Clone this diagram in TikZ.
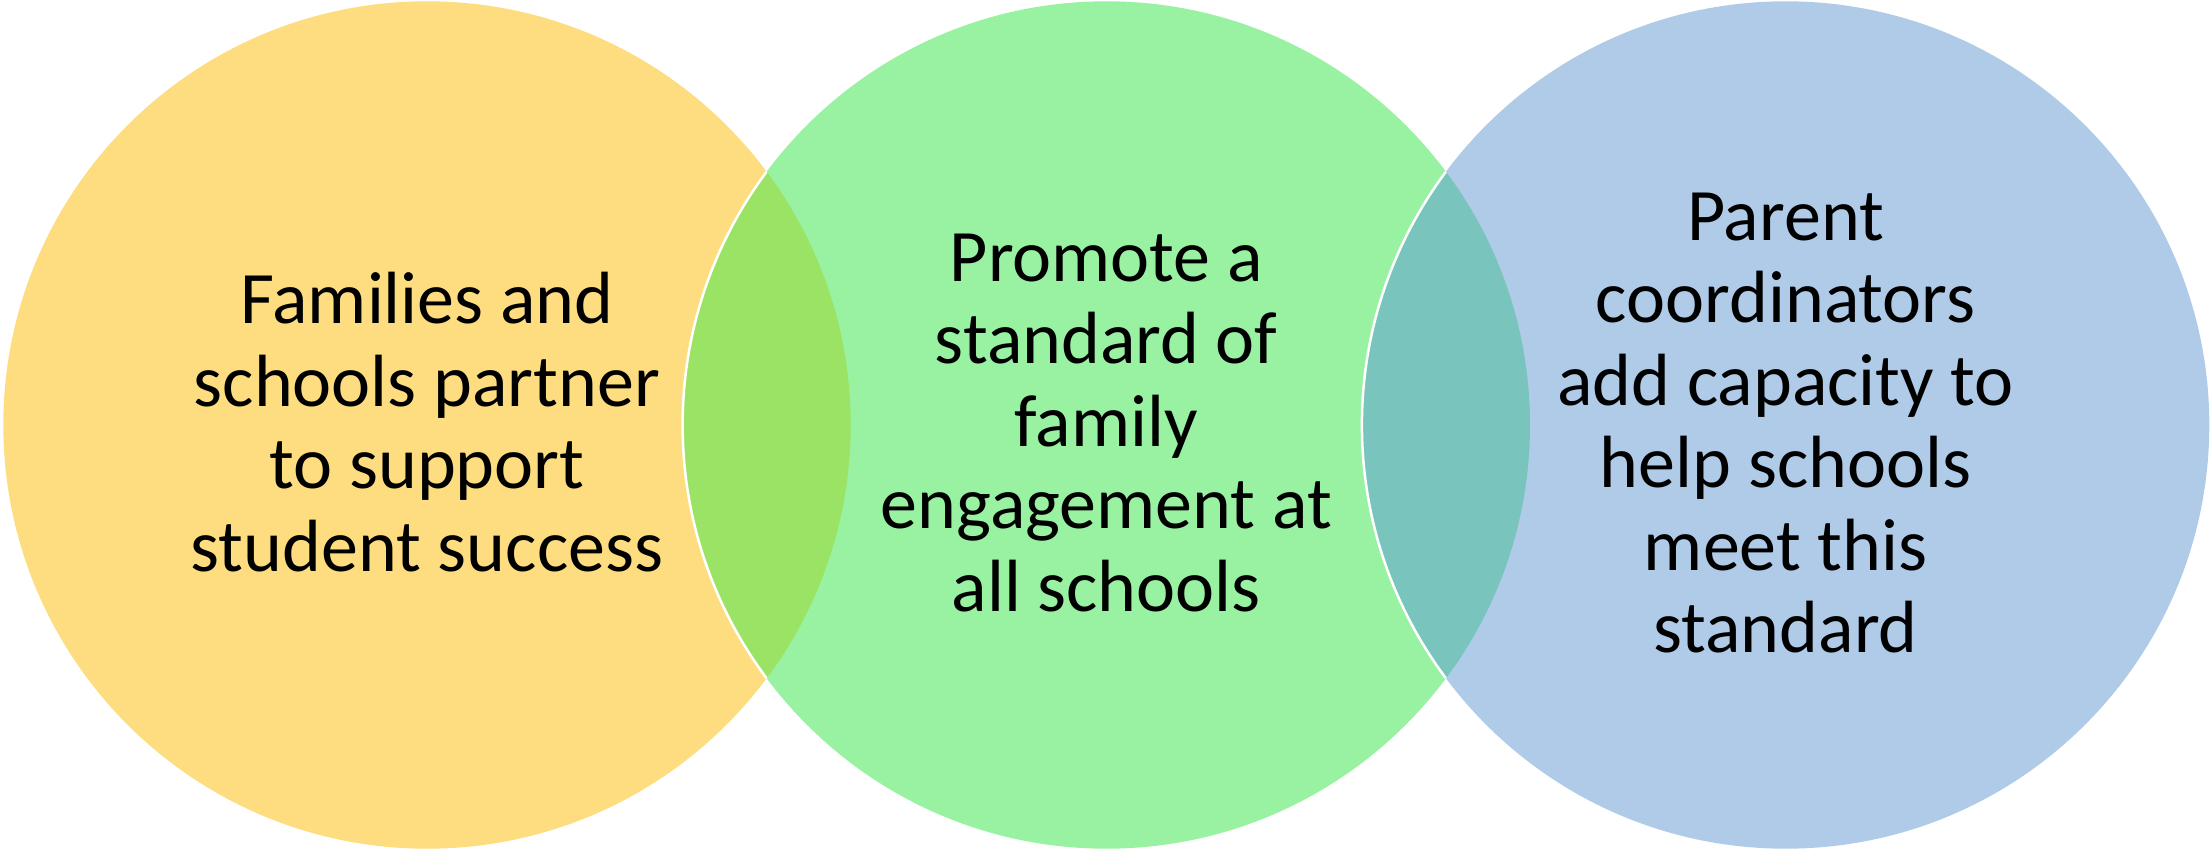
\documentclass[tikz,border=0pt]{standalone}
\usepackage{fontspec}
\setmainfont{Carlito}
\definecolor{cyellow}{HTML}{FEDD80}
\definecolor{cgreen}{HTML}{98F2A2}
\definecolor{cblue}{HTML}{AFCBE8}
\definecolor{lensyg}{HTML}{9BE364}
\definecolor{lensgb}{HTML}{79C4BC}
\begin{document}
\begin{tikzpicture}[x=1pt,y=1pt,
  vtext/.style={align=center,font=\fontsize{74}{82.5}\selectfont,text=black,inner sep=0pt},
  rim/.style={draw=white,line width=2.5pt}]
\useasboundingbox (0,0) rectangle (2211,-850);
\def\R{423.7}
\coordinate (cA) at (427,-425);
\coordinate (cB) at (1106.3,-425);
\coordinate (cC) at (1785.6,-425);
% circles
\fill[cyellow] (cA) circle (\R);
\fill[cgreen] (cB) circle (\R);
\fill[cblue] (cC) circle (\R);
% overlaps
\begin{scope}
  \clip (cA) circle (\R);
  \fill[lensyg] (cB) circle (\R);
  \draw[rim] (cB) circle (\R);
\end{scope}
\begin{scope}
  \clip (cB) circle (\R);
  \fill[lensgb] (cC) circle (\R);
  \draw[rim] (cC) circle (\R);
\end{scope}
% texts
\node[vtext] (tA) at ([yshift=3]cA) {Families and\\schools partner\\to support\\student success};
\node[vtext] (tB) at ([yshift=2]cB) {Promote a\\standard of\\family\\engagement at\\all schools};
\node[vtext] (tC) at ([yshift=2]cC) {Parent\\coordinators\\add capacity to\\help schools\\meet this\\standard};
\end{tikzpicture}
\end{document}
